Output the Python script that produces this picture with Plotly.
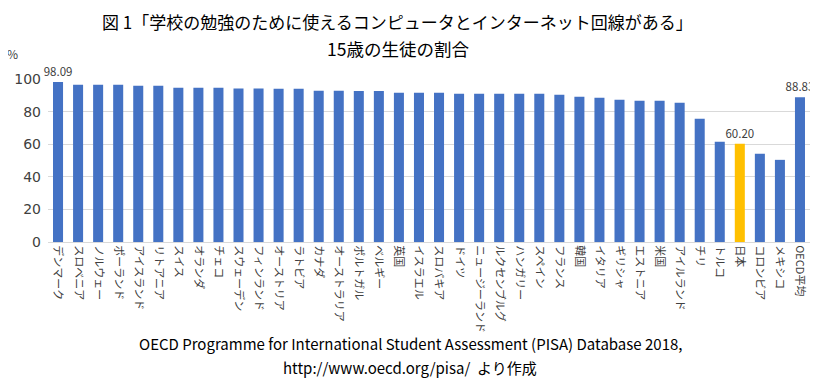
import plotly.graph_objects as go

countries = ["デンマーク", "スロベニア", "ノルウェー", "ポーランド", "アイスランド", "リトアニア",
             "スイス", "オランダ", "チェコ", "スウェーデン", "フィンランド", "オーストリア",
             "ラトビア", "カナダ", "オーストラリア", "ポルトガル", "ベルギー", "英国",
             "イスラエル", "スロバキア", "ドイツ", "ニュージーランド", "ルクセンブルグ", "ハンガリー",
             "スペイン", "フランス", "韓国", "イタリア", "ギリシャ", "エストニア", "米国",
             "アイルランド", "チリ", "トルコ", "日本", "コロンビア", "メキシコ", "OECD平均"]
values = [98.09, 96.5, 96.4, 96.4, 95.9, 95.8,
          94.7, 94.6, 94.6, 94.1, 94.1, 94.0,
          94.0, 92.8, 92.8, 92.7, 92.7, 91.6,
          91.6, 91.5, 91.0, 91.0, 91.0, 90.9,
          90.9, 90.4, 89.1, 88.5, 87.3, 86.7, 86.7,
          85.4, 75.6, 61.5, 60.20, 54.1, 50.4, 88.83]
labeled = ["デンマーク", "日本", "OECD平均"]
highlight = "日本"
y_ticks = [0, 20, 40, 60, 80, 100]

colors = ["#FFC000" if c == highlight else "#4472C4" for c in countries]
texts = [f"{v:.2f}" if c in labeled else "" for c, v in zip(countries, values)]

# The page body has an 8px default margin, so the figure is drawn 8px in from
# the top-left corner of the window; work in window pixels and shift.
OFF = 8
W, H = 818 - OFF, 381 - OFF
# plot area in window pixels: x 48..810, y 79..242
ML, MR, MT = 48 - OFF, 818 - 810, 79 - OFF
MB = H - (242 - OFF)
PW, PH = W - ML - MR, H - MT - MB


def px(x):
    return (x - OFF - ML) / PW


def py(y):
    return (H - MB - (y - OFF)) / PH


jp = "Noto Sans CJK JP"


def ann(text, x, y, size, color="#000000"):
    return dict(text=text, x=px(x), y=py(y), xref="paper", yref="paper",
                showarrow=False, xanchor="center", yanchor="middle",
                font=dict(size=size, color=color, family=jp))


fig = go.Figure(go.Bar(
    x=countries, y=values, marker_color=colors, marker_line_width=0,
    text=texts, textposition="outside", cliponaxis=False, constraintext="none",
    textfont=dict(family=jp, size=11.5, color="#404040"),
))
fig.update_layout(
    width=W, height=H,
    margin=dict(l=ML, r=MR, t=MT, b=MB, autoexpand=False),
    paper_bgcolor="white", plot_bgcolor="white",
    bargap=0.5, showlegend=False,
    font=dict(family=jp, color="#595959"),
    annotations=[
        ann("図 1「学校の勉強のために使えるコンピュータとインターネット回線がある」", 397, 21, 17),
        ann("15歳の生徒の割合", 398, 49, 17.5),
        ann("%", 12, 53, 12, "#404040"),
        ann("OECD Programme for International Student Assessment (PISA) Database 2018,", 410, 343, 15),
        ann("http://www.oecd.org/pisa/  より作成", 410, 367, 15),
    ],
)

fig.update_xaxes(tickangle=90, tickfont=dict(size=11, color="#404040", family=jp),
                 tickmode="array", tickvals=countries, ticktext=countries,
                 showline=True, linecolor="#d9d9d9", linewidth=1, ticks="",
                 showgrid=False, automargin=False)
fig.update_yaxes(range=[0, 100], tickvals=y_ticks, showgrid=True, gridcolor="#d9d9d9",
                 gridwidth=1, zeroline=False, showline=False, ticks="",
                 tickfont=dict(size=14, color="#404040", family="DejaVu Sans"),
                 ticklabelstandoff=6, automargin=False)
fig.write_html("out.html")
